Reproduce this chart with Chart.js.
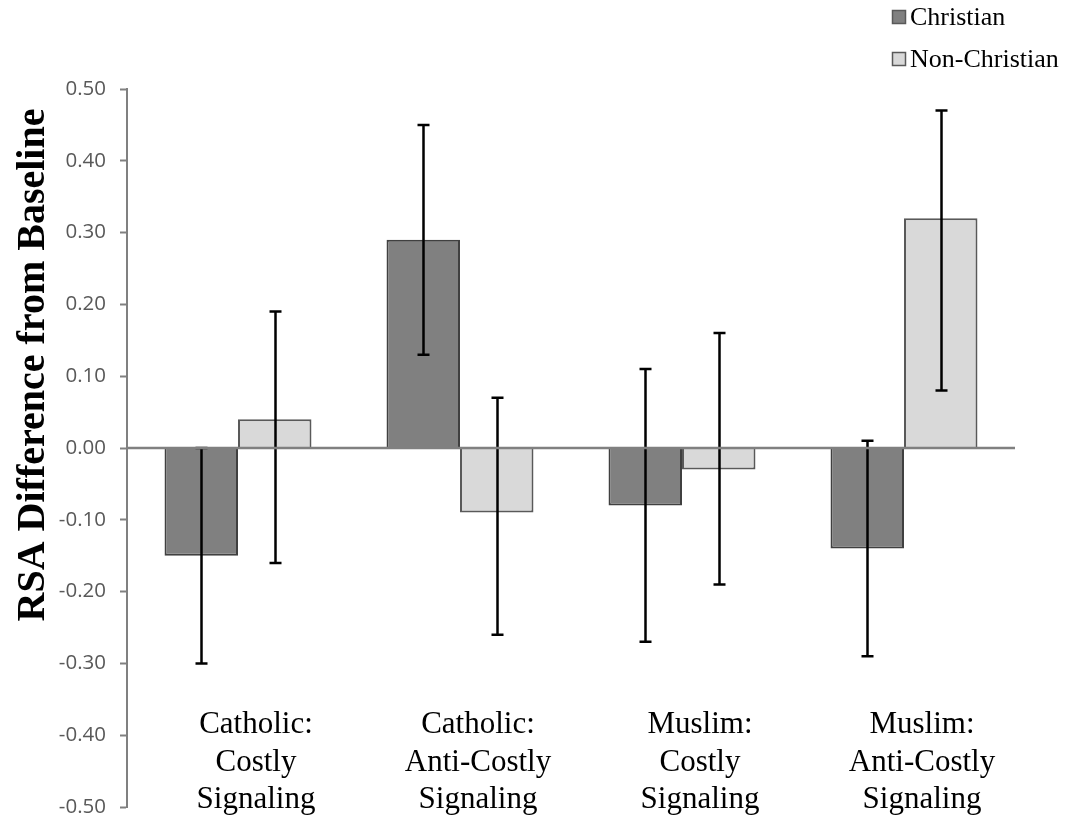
<!DOCTYPE html>
<html>
<head>
<meta charset="utf-8">
<title>RSA Difference from Baseline</title>
<script src="https://cdn.jsdelivr.net/npm/chart.js@4/dist/chart.umd.min.js"></script>
<style>
  html, body { margin: 0; padding: 0; background: #ffffff; overflow: hidden; }
  canvas { display: block; }
</style>
</head>
<body>
<canvas id="chart" width="1067" height="818"></canvas>
<script>
// Conditions (each label split into its printed lines)
const categories = [
  ["Catholic:", "Costly", "Signaling"],
  ["Catholic:", "Anti-Costly", "Signaling"],
  ["Muslim:", "Costly", "Signaling"],
  ["Muslim:", "Anti-Costly", "Signaling"]
];

// Mean RSA change from baseline
const christian    = [-0.15, 0.29, -0.08, -0.14];
const nonChristian = [0.04, -0.09, -0.03, 0.32];

// Error bar ends (low / high)
const christianLow     = [-0.30, 0.13, -0.27, -0.29];
const christianHigh    = [0.00, 0.45, 0.11, 0.01];
const nonChristianLow  = [-0.16, -0.26, -0.19, 0.08];
const nonChristianHigh = [0.19, 0.07, 0.16, 0.47];

// Value axis ticks
const yTicks = [-0.50, -0.40, -0.30, -0.20, -0.10, 0.00, 0.10, 0.20, 0.30, 0.40, 0.50];

const yTitle = "RSA Difference from Baseline";
const serif = "'Liberation Serif', 'Times New Roman', serif";

// Whiskers with caps, from each dataset's low/high arrays
const errorBars = {
  id: 'errorBars',
  afterDatasetsDraw(chart) {
    const { ctx, scales: { y } } = chart;
    ctx.save();
    ctx.strokeStyle = '#000000';
    ctx.lineWidth = 2.5;
    chart.data.datasets.forEach((ds, di) => {
      const meta = chart.getDatasetMeta(di);
      meta.data.forEach((bar, i) => {
        const x = Math.round(bar.x) + 0.5;
        const yl = y.getPixelForValue(ds.errLow[i]);
        const yh = y.getPixelForValue(ds.errHigh[i]);
        ctx.beginPath();
        ctx.moveTo(x, yl); ctx.lineTo(x, yh);
        ctx.moveTo(x - 6, yl); ctx.lineTo(x + 6, yl);
        ctx.moveTo(x - 6, yh); ctx.lineTo(x + 6, yh);
        ctx.stroke();
      });
    });
    // zero line over the whiskers
    const y0 = Math.round(y.getPixelForValue(0));
    ctx.strokeStyle = '#808080';
    ctx.lineWidth = 2.5;
    ctx.beginPath();
    ctx.moveTo(chart.chartArea.left, y0);
    ctx.lineTo(chart.chartArea.right, y0);
    ctx.stroke();
    ctx.restore();
  }
};

// Category labels set low inside the plot, axis title, and stacked legend
const annotations = {
  id: 'annotations',
  afterDraw(chart) {
    const { ctx, scales: { x } } = chart;
    ctx.save();
    ctx.fillStyle = '#000000';
    ctx.textAlign = 'center';
    ctx.textBaseline = 'alphabetic';
    ctx.font = '31px ' + serif;
    const baselines = [733, 770.5, 808];
    categories.forEach((lines, i) => {
      const cx = x.getPixelForValue(i) + 18;
      lines.forEach((t, li) => ctx.fillText(t, cx, baselines[li]));
    });

    // rotated value-axis title
    ctx.save();
    ctx.translate(44, 365);
    ctx.rotate(-Math.PI / 2);
    ctx.font = 'bold 40px ' + serif;
    ctx.textAlign = 'center';
    ctx.textBaseline = 'alphabetic';
    ctx.fillText(yTitle, 0, 0);
    ctx.restore();

    // legend
    ctx.font = '26px ' + serif;
    ctx.textAlign = 'left';
    const rows = [17, 59];
    chart.data.datasets.forEach((ds, di) => {
      const cy = rows[di];
      ctx.fillStyle = ds.backgroundColor;
      ctx.fillRect(892.5, cy - 6.5, 13, 13);
      ctx.strokeStyle = '#595959';
      ctx.lineWidth = 1.5;
      ctx.strokeRect(892.5, cy - 6.5, 13, 13);
      ctx.fillStyle = '#000000';
      ctx.fillText(ds.label, 910, cy + 8);
    });
    ctx.restore();
  }
};

new Chart(document.getElementById('chart'), {
  type: 'bar',
  data: {
    labels: categories.map(c => c.join(' ')),
    datasets: [
      {
        label: 'Christian',
        data: christian,
        errLow: christianLow,
        errHigh: christianHigh,
        backgroundColor: '#808080',
        borderColor: '#404040',
        borderWidth: 2
      },
      {
        label: 'Non-Christian',
        data: nonChristian,
        errLow: nonChristianLow,
        errHigh: nonChristianHigh,
        backgroundColor: '#d9d9d9',
        borderColor: '#595959',
        borderWidth: 2
      }
    ]
  },
  options: {
    responsive: false,
    animation: false,
    devicePixelRatio: 1,
    layout: { padding: { top: 89, right: 52, bottom: 11, left: 0 } },
    datasets: {
      bar: { categoryPercentage: 0.662, barPercentage: 1.0 }
    },
    plugins: {
      legend: { display: false },
      title: { display: false },
      tooltip: { enabled: false }
    },
    scales: {
      x: {
        display: false
      },
      y: {
        min: -0.5,
        max: 0.5,
        afterFit(scale) {
          scale.width = 127;
          scale.paddingTop = 0;
          scale.paddingBottom = 0;
        },
        afterBuildTicks(scale) { scale.ticks = yTicks.map(v => ({ value: v })); },
        ticks: {
          color: '#595959',
          font: { family: "'Open Sans', 'Liberation Sans', sans-serif", size: 20.5 },
          padding: 14,
          callback: v => Number(v).toFixed(2)
        },
        grid: {
          drawOnChartArea: false,
          drawTicks: true,
          tickLength: 7,
          tickColor: '#808080',
          tickWidth: 2
        },
        border: { display: true, color: '#808080', width: 2 }
      }
    }
  },
  plugins: [errorBars, annotations]
});
</script>
</body>
</html>
